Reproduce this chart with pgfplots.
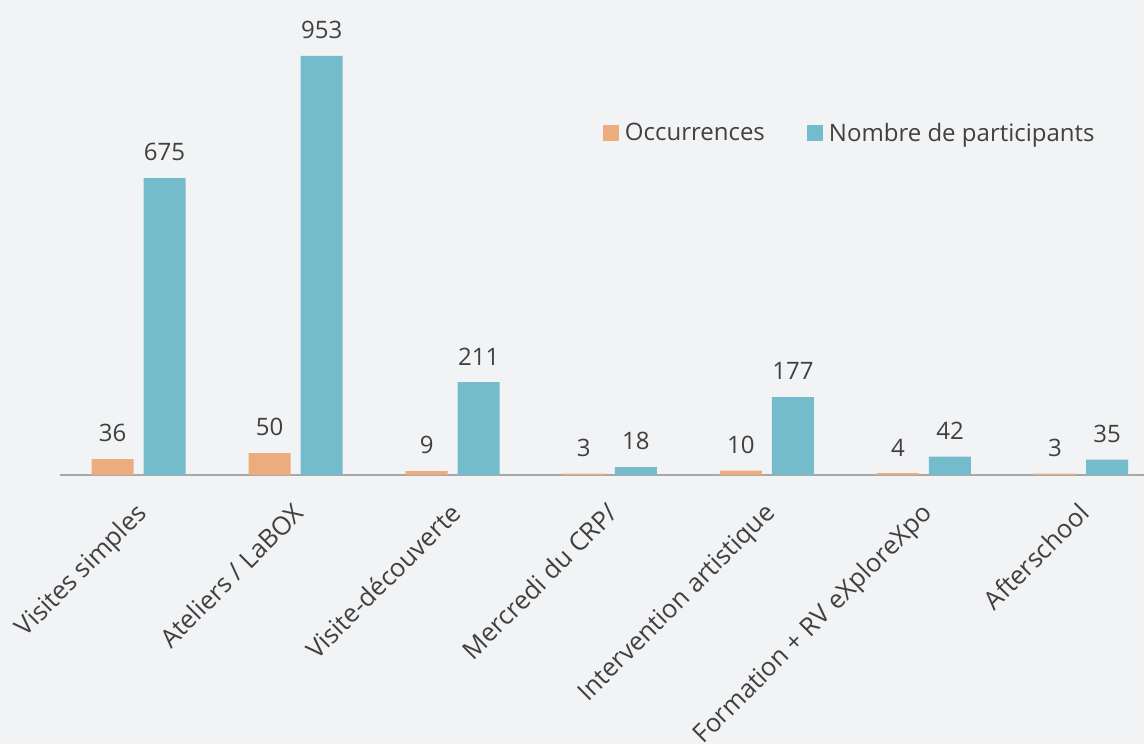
\documentclass[border=0pt]{standalone}
\usepackage{pgfplots}
\pgfplotsset{compat=1.18}
\usepackage{fontspec}
\setmainfont{Open Sans}
\definecolor{bgc}{HTML}{F2F3F5}
\definecolor{occ}{HTML}{EDAC7E}
\definecolor{part}{HTML}{74BCCB}
\definecolor{txt}{HTML}{404040}
\definecolor{axl}{HTML}{A6A8A9}
\begin{document}
\begin{tikzpicture}
\fill[bgc] (0,0) rectangle (1144pt,744pt);
\useasboundingbox (0,0) rectangle (1144pt,744pt);
\begin{axis}[
  at={(60pt,269pt)}, anchor=south west,
  scale only axis, width=1084pt, height=419pt,
  xmin=-0.5, xmax=6.4, ymin=0, ymax=953,
  clip=false,
  /pgf/number format/assume math mode=true,
  ybar, bar width=42pt,
  axis y line=none,
  axis x line*=bottom,
  x axis line style={axl, line width=2pt, -},
  xtick={0,1,2,3,4,5,6},
  xticklabels={Visites simples, Ateliers / LaBOX, Visite-découverte, Mercredi du CRP/, Intervention artistique, Formation + RV eXploreXpo, Afterschool},
  major tick length=0pt,
  xticklabel style={xshift=-4pt, yshift=-26pt, rotate=45, anchor=north east, inner sep=0pt, font=\fontsize{25.5}{28}\selectfont, text=txt},
  nodes near coords,
  every node near coord/.append style={font=\fontsize{24}{28}\selectfont, text=txt, anchor=south, inner sep=0pt, yshift=17pt},
  legend columns=2,
  legend style={at={(0.498,0.85)}, anchor=north west, draw=none, fill=none, font=\fontsize{24}{28}\selectfont, text=txt, /tikz/every even column/.append style={column sep=40pt}},
  legend image code/.code={\fill[#1] (0pt,-8pt) rectangle (16pt,8pt); \path (20pt,0pt);},
]
\addplot[fill=occ, draw=none, bar shift=-26pt] coordinates {(0,36) (1,50) (2,9) (3,3) (4,10) (5,4) (6,3)};
\addplot[fill=part, draw=none, bar shift=26pt] coordinates {(0,675) (1,953) (2,211) (3,18) (4,177) (5,42) (6,35)};
\legend{Occurrences, Nombre de participants}
\end{axis}
\end{tikzpicture}
\end{document}
